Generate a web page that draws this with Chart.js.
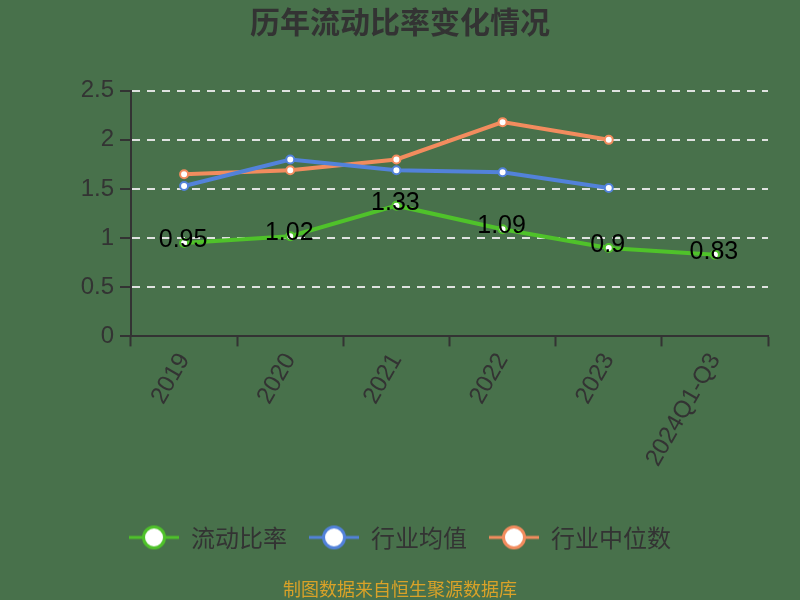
<!DOCTYPE html>
<html><head><meta charset="utf-8">
<script src="https://cdn.jsdelivr.net/npm/chart.js@4.4.0/dist/chart.umd.min.js"></script>
<style>html,body{margin:0;padding:0;background:#48714b;}#wrap{width:800px;height:600px;}</style>
</head><body><div id="wrap"><canvas id="c" width="800" height="600"></canvas></div>
<script>
const categories = ['2019', '2020', '2021', '2022', '2023', '2024Q1-Q3'];
const currentRatio = [0.95, 1.02, 1.33, 1.09, 0.90, 0.83];
const industryAvg = [1.53, 1.80, 1.69, 1.67, 1.51, null];
const industryMedian = [1.65, 1.69, 1.80, 2.18, 2.00, null];
const yTicks = ['0', '0.5', '1', '1.5', '2', '2.5'];
const seriesNames = ['流动比率', '行业均值', '行业中位数'];
const seriesColors = ['#4fc22a', '#5282da', '#f28c5e'];

const BG = '#48714b';
const NUM_FONT = 'Liberation Sans, Arial, sans-serif';
const CJK_FONT = '"Noto Sans CJK SC", "Noto Sans", sans-serif';

function legendIcon(color) {
  const cv = document.createElement('canvas');
  cv.width = 50; cv.height = 30;
  const g = cv.getContext('2d');
  g.strokeStyle = color; g.lineWidth = 3;
  g.beginPath(); g.moveTo(0, 15); g.lineTo(50, 15); g.stroke();
  g.beginPath(); g.arc(25, 15, 10.5, 0, Math.PI * 2);
  g.fillStyle = '#ffffff'; g.fill(); g.lineWidth = 3; g.stroke();
  return cv;
}
const icons = seriesColors.map(legendIcon);

const bgPlugin = {
  id: 'bg',
  beforeDraw(chart) {
    const ctx = chart.ctx;
    ctx.save(); ctx.fillStyle = BG; ctx.fillRect(0, 0, chart.width, chart.height); ctx.restore();
  }
};

const labelPlugin = {
  id: 'valueLabels',
  afterDatasetsDraw(chart) {
    const ctx = chart.ctx;
    const meta = chart.getDatasetMeta(0);
    ctx.save();
    ctx.font = '25px ' + NUM_FONT;
    ctx.fillStyle = '#000';
    ctx.textAlign = 'center';
    ctx.textBaseline = 'middle';
    meta.data.forEach((pt, i) => {
      const v = currentRatio[i];
      if (v == null) return;
      ctx.fillText(String(v), pt.x - 1, pt.y - 3);
    });
    ctx.restore();
  }
};

function mkDataset(i, data) {
  return {
    label: seriesNames[i],
    data: data,
    yAxisID: 'y',
    borderColor: seriesColors[i],
    backgroundColor: '#ffffff',
    pointBackgroundColor: '#ffffff',
    pointBorderColor: seriesColors[i],
    pointBorderWidth: 2,
    pointRadius: 4,
    borderWidth: 4,
    tension: 0,
    spanGaps: false
  };
}

new Chart(document.getElementById('c'), {
  type: 'line',
  data: {
    labels: categories,
    datasets: [mkDataset(0, currentRatio), mkDataset(1, industryAvg), mkDataset(2, industryMedian)]
  },
  plugins: [bgPlugin, labelPlugin],
  options: {
    responsive: false,
    animation: false,
    layout: { padding: { left: 0, right: 0, top: 0, bottom: 0 } },
    plugins: {
      tooltip: { enabled: false },
      title: {
        display: true,
        text: '历年流动比率变化情况',
        color: '#333333',
        font: { family: CJK_FONT, size: 30, weight: 'bold' },
        padding: { top: 4, bottom: 50.7 }
      },
      subtitle: {
        display: true,
        position: 'bottom',
        text: '制图数据来自恒生聚源数据库',
        color: '#d9a228',
        font: { family: CJK_FONT, size: 18, weight: 'normal' },
        padding: { top: 19, bottom: 0 }
      },
      legend: {
        display: true,
        position: 'bottom',
        labels: {
          usePointStyle: true,
          pointStyleWidth: 50,
          padding: 22,
          color: '#333333',
          font: { family: CJK_FONT, size: 24 },
          generateLabels(chart) {
            return chart.data.datasets.map((ds, i) => ({
              text: ds.label,
              pointStyle: icons[i],
              fillStyle: '#fff',
              strokeStyle: seriesColors[i],
              lineWidth: 0,
              fontColor: '#333333',
              hidden: false,
              datasetIndex: i
            }));
          }
        }
      }
    },
    scales: {
      x: {
        type: 'category',
        offset: true,
        afterFit(s) { s.height = 167; },
        border: { display: true, color: '#333333', width: 2 },
        grid: {
          display: true, drawOnChartArea: false, drawTicks: true, offset: true,
          tickLength: 10, tickColor: '#333333', tickWidth: 2
        },
        ticks: {
          autoSkip: false, minRotation: 60, maxRotation: 60, padding: 2,
          color: '#333333', font: { family: NUM_FONT, size: 24 }
        }
      },
      y: {
        position: 'left',
        min: 0, max: 2.5,
        afterFit(s) { s.width = 131; },
        border: { display: true, color: '#333333', width: 2, dash: [8, 7] },
        grid: {
          drawOnChartArea: true, drawTicks: true,
          color: (c) => (c.tick && c.tick.value === 0) ? 'rgba(0,0,0,0)' : 'rgba(232,232,232,0.95)',
          lineWidth: 2,
          tickLength: 11, tickColor: '#333333', tickWidth: 2, tickBorderDash: []
        },
        ticks: {
          stepSize: 0.5, padding: 6,
          color: '#333333', font: { family: NUM_FONT, size: 24 },
          callback: (v, i) => yTicks[i]
        }
      },
      yRight: {
        position: 'right',
        display: true,
        min: 0, max: 2.5,
        afterFit(s) { s.width = 32; },
        border: { display: false },
        grid: { display: false, drawTicks: false },
        ticks: { display: false }
      }
    }
  }
});
</script>
</body></html>
